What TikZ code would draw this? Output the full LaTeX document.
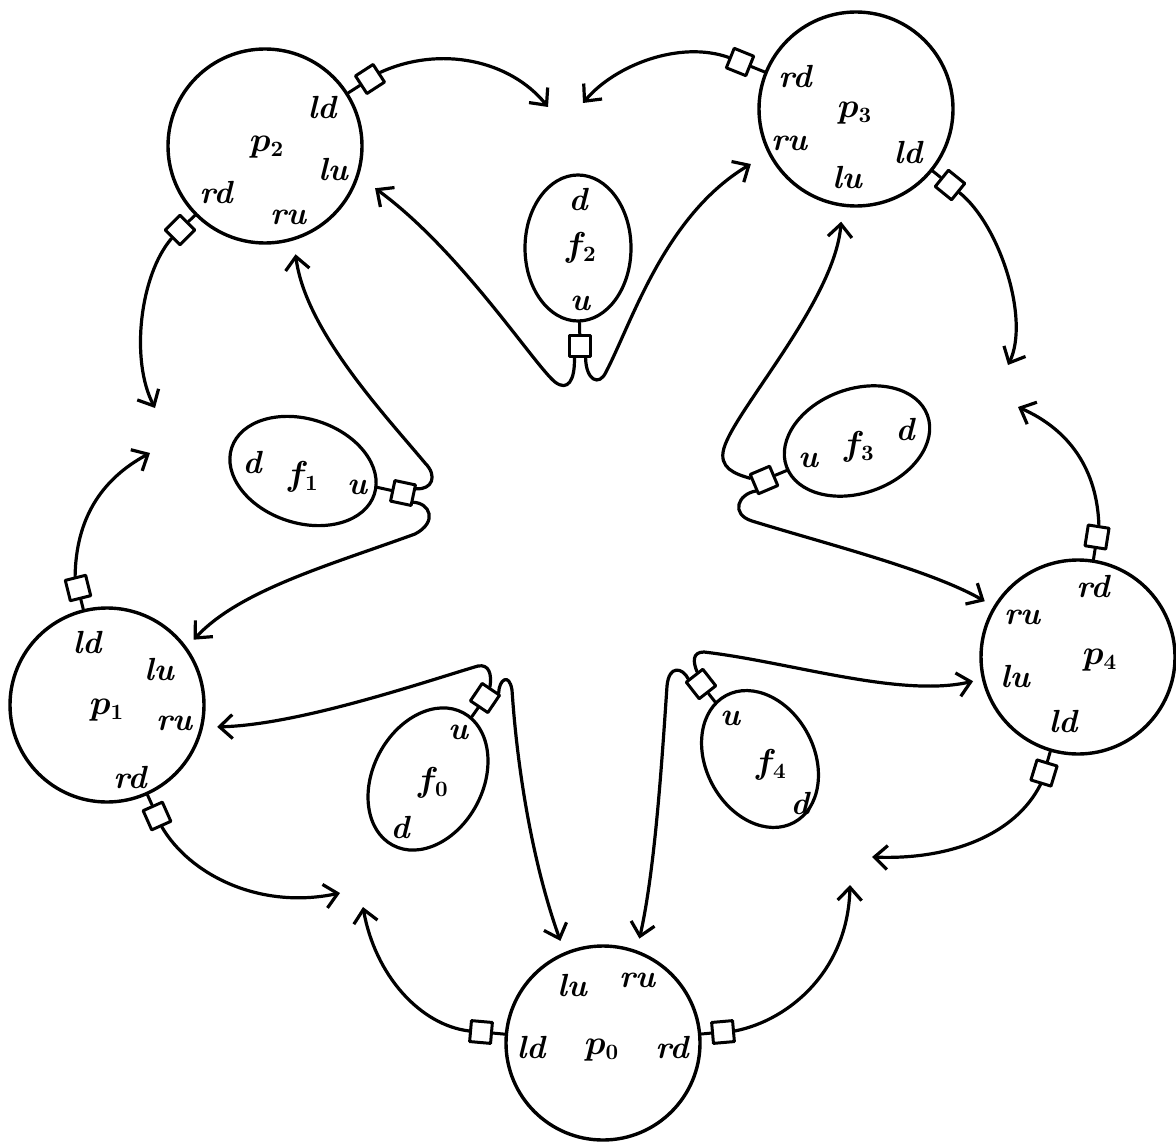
\documentclass[tikz,border=0pt]{standalone}
\usetikzlibrary{shapes.geometric,arrows.meta}
\newcommand\lblfont{\fontsize{16}{19}\selectfont\bfseries\itshape\boldmath}
\begin{document}
\begin{tikzpicture}[x=0.5pt,y=-0.5pt,line cap=round,line join=round,
  proc/.style={circle,draw,line width=1.7pt,minimum size=97pt,inner sep=0pt},
  fork/.style={ellipse,draw,line width=1.6pt,inner sep=0pt},
  port/.style={rectangle,draw,line width=1.5pt,minimum size=10.5pt,inner sep=0pt,fill=white},
  lab/.style={inner sep=0pt,font=\lblfont},
  stub/.style={line width=1.5pt},
  wire/.style={line width=1.6pt,-{Straight Barb[length=6.5pt,width=12pt]}}]
\useasboundingbox (0,0) rectangle (1176,1144);

% processes
\node[proc] (p0) at (603,1043) {};
\node[proc] (p1) at (107,705) {};
\node[proc] (p2) at (265,146) {};
\node[proc] (p3) at (856,109) {};
\node[proc] (p4) at (1078,657) {};

% forks
\node[fork,minimum width=73pt,minimum height=53pt,rotate=90] (f2) at (578,248) {};
\node[fork,minimum width=75pt,minimum height=52pt,rotate=-18] (f1) at (303,471) {};
\node[fork,minimum width=75pt,minimum height=52pt,rotate=20] (f3) at (857,441) {};
\node[fork,minimum width=75pt,minimum height=55pt,rotate=62] (f0) at (428,779) {};
\node[fork,minimum width=72pt,minimum height=54pt,rotate=-62] (f4) at (760,759) {};

% ports
\node[port,rotate=33] (p2a) at (370,79) {};
\node[port,rotate=-135] (p2b) at (180,230) {};
\node[port,rotate=158] (p3a) at (740,62) {};
\node[port,rotate=-39] (p3b) at (950,185) {};
\node[port,rotate=104] (p1a) at (78,588) {};
\node[port,rotate=-66] (p1b) at (157,816) {};
\node[port,rotate=175] (p0a) at (481,1032) {};
\node[port,rotate=5] (p0b) at (723,1032) {};
\node[port,rotate=81] (p4a) at (1097,537) {};
\node[port,rotate=-107] (p4b) at (1044,773) {};
\node[port,rotate=-90] (f2p) at (580,346) {};
\node[port,rotate=-12] (f1p) at (403,493) {};
\node[port,rotate=-157] (f3p) at (764,480) {};
\node[port,rotate=56] (f0p) at (485,698) {};
\node[port,rotate=128] (f4p) at (701,684) {};

% stubs
\foreach \a/\b in {p2a/p2,p2b/p2,p3a/p3,p3b/p3,p1a/p1,p1b/p1,p0a/p0,p0b/p0,p4a/p4,p4b/p4,f2p/f2,f1p/f1,f3p/f3,f0p/f0,f4p/f4}
  \draw[stub] (\a) -- (\b);

% free ends of the ring arrows
\coordinate (t1) at (548,107);
\coordinate (t2) at (583,103);
\coordinate (t3) at (1008,365);
\coordinate (t4) at (1018,407);
\coordinate (t5) at (872,857);
\coordinate (t6) at (850,885);
\coordinate (t7) at (363,907);
\coordinate (t8) at (340,893);
\coordinate (t9) at (150,453);
\coordinate (t10) at (155,408);

\draw[wire] (p2a.east) .. controls (440,45) and (510,60) .. (t1);
\draw[wire] (p3a.east) .. controls (680,40) and (615,65) .. (t2);
\draw[wire] (p3b.east) .. controls (1000,225) and (1030,320) .. (t3);
\draw[wire] (p4a.east) .. controls (1097,470) and (1070,430) .. (t4);
\draw[wire] (p4b.east) .. controls (1015,835) and (950,860) .. (t5);
\draw[wire] (p0b.east) .. controls (790,1020) and (848,970) .. (t6);
\draw[wire] (p0a.east) .. controls (420,1025) and (375,975) .. (t7);
\draw[wire] (p1b.east) .. controls (190,875) and (260,910) .. (t8);
\draw[wire] (p1a.east) .. controls (76,520) and (100,480) .. (t9);
\draw[wire] (p2b.east) .. controls (140,275) and (130,360) .. (t10);

% fork arrows
\draw[wire,shorten >=10pt] (f2p.-25) .. controls (575,380) and (568,392) .. (555,382) .. controls (535,366) and (460,250) .. (p2.-18);
\draw[wire,shorten >=10pt] (f2p.25) .. controls (586,380) and (599,387) .. (606,372) .. controls (632,322) and (665,215) .. (p3.207);
\draw[wire,shorten >=7pt] (f1p.30) .. controls (432,490) and (438,476) .. (425,463) .. controls (385,415) and (305,330) .. (p2.-73);
\draw[wire,shorten >=5pt] (f1p.-30) .. controls (430,503) and (438,522) .. (415,534) .. controls (330,565) and (240,590) .. (p1.36);
\draw[wire,shorten >=7.5pt] (f3p.-30) .. controls (735,474) and (718,468) .. (724,448) .. controls (735,410) and (835,300) .. (p3.-98);
\draw[wire,shorten >=5pt] (f3p.30) .. controls (738,494) and (730,514) .. (752,521) .. controls (830,545) and (930,570) .. (p4.149);
\draw[wire,shorten >=7pt] (f0p.10) .. controls (492,674) and (489,664) .. (478,666) .. controls (430,680) and (300,725) .. (p1.-13);
\draw[wire,shorten >=6pt] (f0p.-35) .. controls (499,680) and (509,672) .. (512,690) .. controls (518,780) and (535,870) .. (p0.113);
\draw[wire,shorten >=4.5pt] (f4p.-20) .. controls (693,662) and (692,652) .. (704,652) .. controls (790,662) and (900,698) .. (p4.193);
\draw[wire,shorten >=6pt] (f4p.30) .. controls (683,668) and (669,664) .. (667,686) .. controls (662,760) and (655,870) .. (p0.70);

% labels: processes
\node[lab] (p2ld) at (322,108) {ld};
\node[lab] (p2n) at (267,147) {$p_2$};
\node[lab] (p2lu) at (333,170) {lu};
\node[lab] (p2rd) at (216,193) {rd};
\node[lab] (p2ru) at (288,217) {ru};

\node[lab] (p3rd) at (795,77) {rd};
\node[lab] (p3n) at (855,113) {$p_3$};
\node[lab] (p3ru) at (789,143) {ru};
\node[lab] (p3ld) at (908,153) {ld};
\node[lab] (p3lu) at (847,178) {lu};

\node[lab] (p1ld) at (87,643) {ld};
\node[lab] (p1lu) at (159,670) {lu};
\node[lab] (p1n) at (107,710) {$p_1$};
\node[lab] (p1ru) at (174,723) {ru};
\node[lab] (p1rd) at (130,777) {rd};

\node[lab] (p0lu) at (572,985) {lu};
\node[lab] (p0ru) at (637,980) {ru};
\node[lab] (p0ld) at (531,1047) {ld};
\node[lab] (p0n) at (602,1050) {$p_0$};
\node[lab] (p0rd) at (672,1047) {rd};

\node[lab] (p4rd) at (1093,587) {rd};
\node[lab] (p4ru) at (1022,617) {ru};
\node[lab] (p4n) at (1100,660) {$p_4$};
\node[lab] (p4lu) at (1015,677) {lu};
\node[lab] (p4ld) at (1063,722) {ld};

% labels: forks
\node[lab] (f2d) at (578,200) {d};
\node[lab] (f2n) at (580,248) {$f_2$};
\node[lab] (f2u) at (580,303) {u};

\node[lab] (f1d) at (252,463) {d};
\node[lab] (f1n) at (302,477) {$f_1$};
\node[lab] (f1u) at (357,487) {u};

\node[lab] (f3u) at (808,460) {u};
\node[lab] (f3n) at (858,447) {$f_3$};
\node[lab] (f3d) at (905,430) {d};

\node[lab] (f0u) at (458,732) {u};
\node[lab] (f0n) at (432,783) {$f_0$};
\node[lab] (f0d) at (400,827) {d};

\node[lab] (f4u) at (730,718) {u};
\node[lab] (f4n) at (770,765) {$f_4$};
\node[lab] (f4d) at (800,803) {d};
\end{tikzpicture}
\end{document}
